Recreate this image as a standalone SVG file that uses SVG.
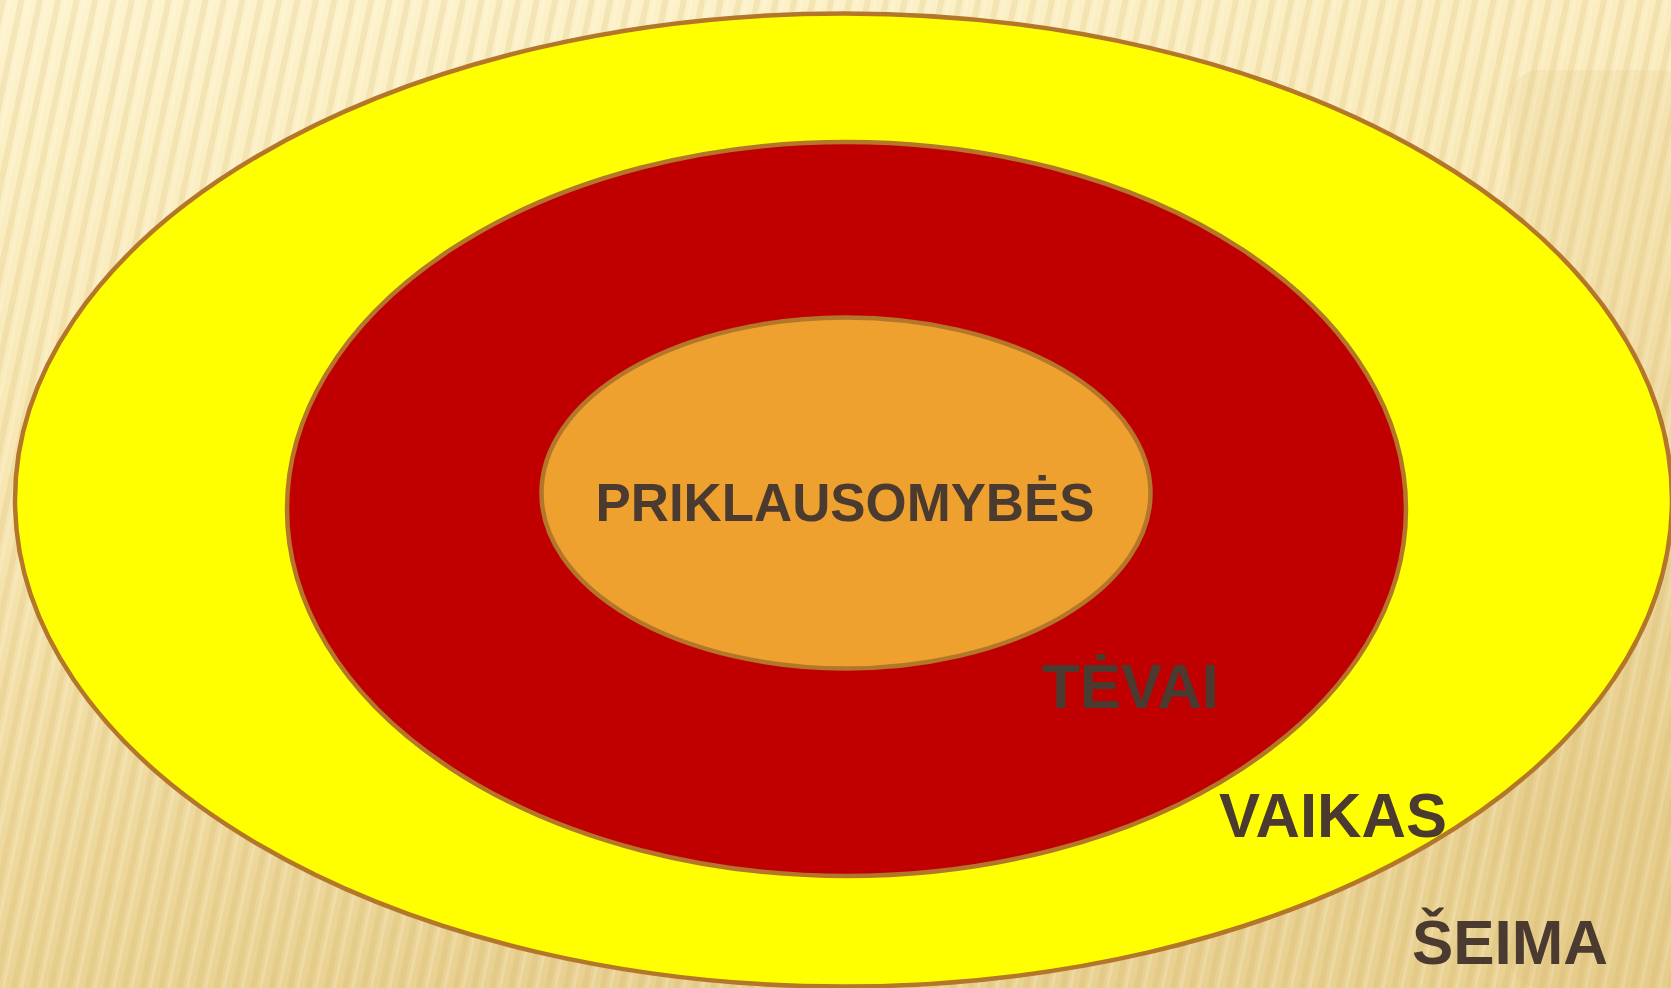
<svg xmlns="http://www.w3.org/2000/svg" width="1671" height="988" viewBox="0 0 1671 988">
  <defs>
    <linearGradient id="bg" x1="0" y1="0" x2="0.25" y2="1">
      <stop offset="0" stop-color="#fdf3cd"/>
      <stop offset="0.45" stop-color="#f8e7b3"/>
      <stop offset="1" stop-color="#e9d191"/>
    </linearGradient>
    <pattern id="stripes" width="18" height="40" patternUnits="userSpaceOnUse" patternTransform="rotate(12)">
      <rect x="0" y="0" width="6" height="40" fill="#c9a955" opacity="0.16"/>
      <rect x="9" y="0" width="3" height="40" fill="#ffffff" opacity="0.18"/>
    </pattern>
  </defs>
  <style>
    .ring { stroke: #b4772a; stroke-width: 4.5; }
    .lbl { font-family: "Liberation Sans", Arial, sans-serif; font-weight: bold; fill: #4a3a2f; }
  </style>

  <rect width="1671" height="988" fill="url(#bg)"/>
  <rect width="1671" height="988" fill="url(#stripes)"/>
  <rect x="1510" y="70" width="180" height="918" rx="30" fill="#d9b868" opacity="0.12"/>

  <g id="seima">
    <ellipse class="ring" cx="843.5" cy="500" rx="828.5" ry="486.5" fill="#ffff00"/>
  </g>
  <g id="vaikas">
    <ellipse class="ring" cx="846.5" cy="509" rx="559.5" ry="367" fill="#c00000"/>
  </g>
  <g id="tevai-priklausomybes">
    <ellipse class="ring" cx="846" cy="493" rx="304.5" ry="175.5" fill="#efa12f"/>
  </g>

  <g id="labels">
    <text class="lbl" x="595.5" y="521" font-size="54" textLength="499" lengthAdjust="spacingAndGlyphs">PRIKLAUSOMYBĖS</text>
    <text class="lbl" x="1042" y="708" font-size="63" textLength="177" lengthAdjust="spacingAndGlyphs">TĖVAI</text>
    <text class="lbl" x="1219" y="836.5" font-size="63" textLength="228" lengthAdjust="spacingAndGlyphs">VAIKAS</text>
    <text class="lbl" x="1412" y="964" font-size="63" textLength="196" lengthAdjust="spacingAndGlyphs">ŠEIMA</text>
  </g>

  <g id="connectors"></g>
</svg>
